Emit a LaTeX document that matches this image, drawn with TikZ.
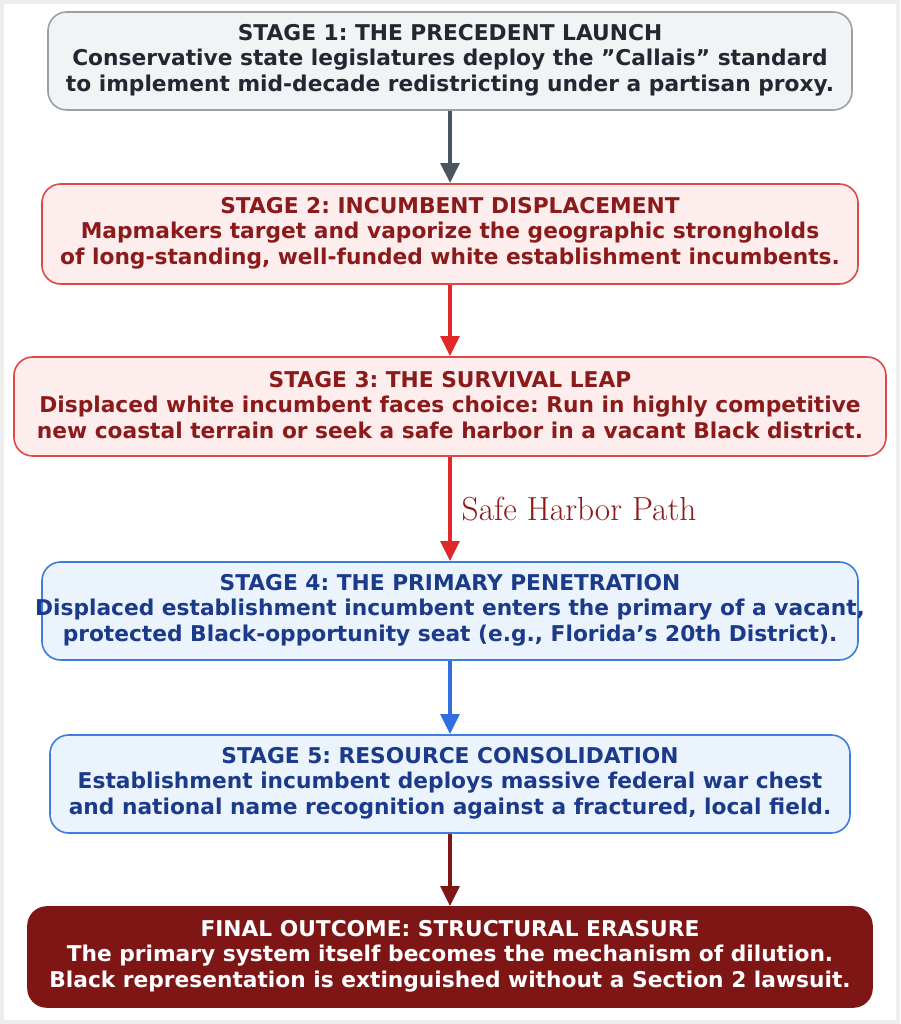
\documentclass[tikz,border=0pt]{standalone}
\usepackage{fontspec}
\setsansfont{DejaVu Sans}
\usetikzlibrary{arrows.meta}
\definecolor{gbord}{HTML}{9AA0A6}\definecolor{gfill}{HTML}{F1F3F5}\definecolor{gtext}{HTML}{222831}
\definecolor{rbord}{HTML}{E04848}\definecolor{rfill}{HTML}{FDEDED}\definecolor{rtext}{HTML}{8B1A1A}
\definecolor{bbord}{HTML}{3C7DDE}\definecolor{bfill}{HTML}{EBF3FD}\definecolor{btext}{HTML}{1B3A8A}
\definecolor{dred}{HTML}{7F1616}\definecolor{garrow}{HTML}{4A5560}\definecolor{rarrow}{HTML}{E02828}
\definecolor{barrow}{HTML}{2F6FE0}
\newcommand{\dq}{\symbol{"22}}
\newcommand{\sq}{\symbol{"27}}
\begin{document}
\frenchspacing
\begin{tikzpicture}[x=0.75pt,y=-0.75pt,
 box/.style={rounded corners=14pt,line width=1.2pt,align=center,font=\sffamily\bfseries\fontsize{16.3}{19.2}\selectfont,inner sep=0pt},
 arr/.style={line width=2.8pt,-{Triangle[length=15pt,width=14pt]}}]
\fill[black!7] (0,0) rectangle (900,1024);
\fill[white] (4,4) rectangle (896,1020);
\draw[box,draw=gbord,fill=gfill] (48,12) rectangle (852,110);
\node[box,text=gtext] (s1) at (450,60) {STAGE 1: THE PRECEDENT LAUNCH\\Conservative state legislatures deploy the \dq Callais\dq{} standard\\to implement mid-decade redistricting under a partisan proxy.};
\draw[box,draw=rbord,fill=rfill] (42,184) rectangle (858,284);
\node[box,text=rtext] (s2) at (450,233) {STAGE 2: INCUMBENT DISPLACEMENT\\Mapmakers target and vaporize the geographic strongholds\\of long-standing, well-funded white establishment incumbents.};
\draw[box,draw=rbord,fill=rfill] (14,357) rectangle (886,456);
\node[box,text=rtext] (s3) at (450,405) {STAGE 3: THE SURVIVAL LEAP\\Displaced white incumbent faces choice: Run in highly competitive\\new coastal terrain or seek a safe harbor in a vacant Black district.};
\draw[box,draw=bbord,fill=bfill] (42,562) rectangle (858,660);
\node[box,text=btext] (s4) at (450,610) {STAGE 4: THE PRIMARY PENETRATION\\Displaced establishment incumbent enters the primary of a vacant,\\protected Black-opportunity seat (e.g., Florida\sq s 20th District).};
\draw[box,draw=bbord,fill=bfill] (50,735) rectangle (850,833);
\node[box,text=btext] (s5) at (450,783) {STAGE 5: RESOURCE CONSOLIDATION\\Establishment incumbent deploys massive federal war chest\\and national name recognition against a fractured, local field.};
\draw[box,draw=dred,fill=dred] (28,907) rectangle (872,1007);
\node[box,text=white] (s6) at (450,956) {FINAL OUTCOME: STRUCTURAL ERASURE\\The primary system itself becomes the mechanism of dilution.\\Black representation is extinguished without a Section 2 lawsuit.};
\coordinate (a1) at (450,111); \coordinate (b1) at (450,183);
\coordinate (a2) at (450,285); \coordinate (b2) at (450,356);
\coordinate (a3) at (450,457); \coordinate (b3) at (450,561);
\coordinate (a4) at (450,661); \coordinate (b4) at (450,734);
\coordinate (a5) at (450,834); \coordinate (b5) at (450,906);
\draw[arr,garrow] (a1)--(b1);
\draw[arr,rarrow] (a2)--(b2);
\draw[arr,rarrow] (a3)--(b3);
\node[anchor=west,text=rtext,font=\fontsize{25}{28}\selectfont] (lab) at (457,509) {Safe Harbor Path};
\draw[arr,barrow] (a4)--(b4);
\draw[arr,dred] (a5)--(b5);
\end{tikzpicture}
\end{document}
